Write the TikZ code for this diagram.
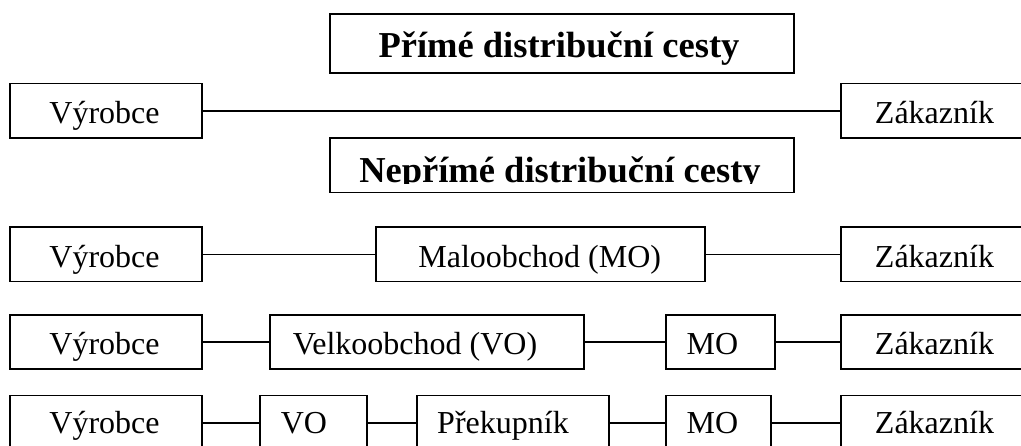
\documentclass[tikz,border=0pt]{standalone}
\usepackage{fontspec}
\setmainfont{Liberation Serif}
\begin{document}
\begin{tikzpicture}[x=1pt,y=1pt,
  box/.style 2 args={draw, line width=1.6pt, inner sep=0pt,
    minimum width=#1, minimum height=#2, anchor=center},
  txt/.style={inner sep=0pt, anchor=base, font=\fontsize{32}{38}\selectfont},
  head/.style={inner sep=0pt, anchor=base, font=\fontsize{36.5}{44}\selectfont\bfseries},
  link/.style={line width=1.7pt}]
\useasboundingbox (0,0) rectangle (1021,446);

% ---- direct channel ----
\node[box={464pt}{59.3pt}] (t1) at (562,402.35) {};
\node[head] (t1t) at (559,388) {Přímé distribuční cesty};

\node[box={192pt}{54.5pt}] (v0) at (106,335.3) {};
\node[txt] (v0t) at (104.5,322) {Výrobce};
\node[box={192pt}{54.5pt}] (z0) at (937,335.3) {};
\node[txt] (z0t) at (934.5,322) {Zákazník};
\draw[link] (v0.east) -- (z0.west);

% ---- indirect channels ----
\node[box={464pt}{54.7pt}] (t2) at (562,280.65) {};
\begin{scope}
  \clip (t2.north west) rectangle (794,262.8);
  \node[head] (t2t) at (560,263) {Nepřímé distribuční cesty};
\end{scope}

% one intermediary
\node[box={192pt}{54.5pt}] (v1) at (106,191.6) {};
\node[txt] (v1t) at (104.5,178) {Výrobce};
\node[box={329pt}{54.5pt}] (m1) at (540.5,191.6) {};
\node[txt] (m1t) at (539.7,178) {Maloobchod (MO)};
\node[box={192pt}{54.5pt}] (z1) at (937,191.6) {};
\node[txt] (z1t) at (934.5,178) {Zákazník};
\draw[link] (v1.east) -- (m1.west);
\draw[link] (m1.east) -- (z1.west);

% two intermediaries
\node[box={192pt}{54.5pt}] (v2) at (106,104) {};
\node[txt] (v2t) at (104.5,91) {Výrobce};
\node[box={314pt}{54.5pt}] (w2) at (427,104) {};
\node[txt] (w2t) at (415,91) {Velkoobchod (VO)};
\node[box={109pt}{54.5pt}] (m2) at (720.5,104) {};
\node[txt] (m2t) at (712.5,91) {MO};
\node[box={192pt}{54.5pt}] (z2) at (937,104) {};
\node[txt] (z2t) at (934.5,91) {Zákazník};
\draw[link] (v2.east) -- (w2.west);
\draw[link] (w2.east) -- (m2.west);
\draw[link] (m2.east) -- (z2.west);

% three intermediaries
\node[box={192pt}{55pt}] (v3) at (106,23) {};
\node[txt] (v3t) at (104.5,12) {Výrobce};
\node[box={107pt}{55pt}] (w3) at (313.5,23) {};
\node[txt] (w3t) at (304,12) {VO};
\node[box={192pt}{55pt}] (p3) at (513,23) {};
\node[txt] (p3t) at (503,12) {Překupník};
\node[box={105pt}{55pt}] (m3) at (718.5,23) {};
\node[txt] (m3t) at (712.5,12) {MO};
\node[box={192pt}{55pt}] (z3) at (937,23) {};
\node[txt] (z3t) at (934.5,12) {Zákazník};
\draw[link] (v3.east) -- (w3.west);
\draw[link] (w3.east) -- (p3.west);
\draw[link] (p3.east) -- (m3.west);
\draw[link] (m3.east) -- (z3.west);
\end{tikzpicture}
\end{document}
